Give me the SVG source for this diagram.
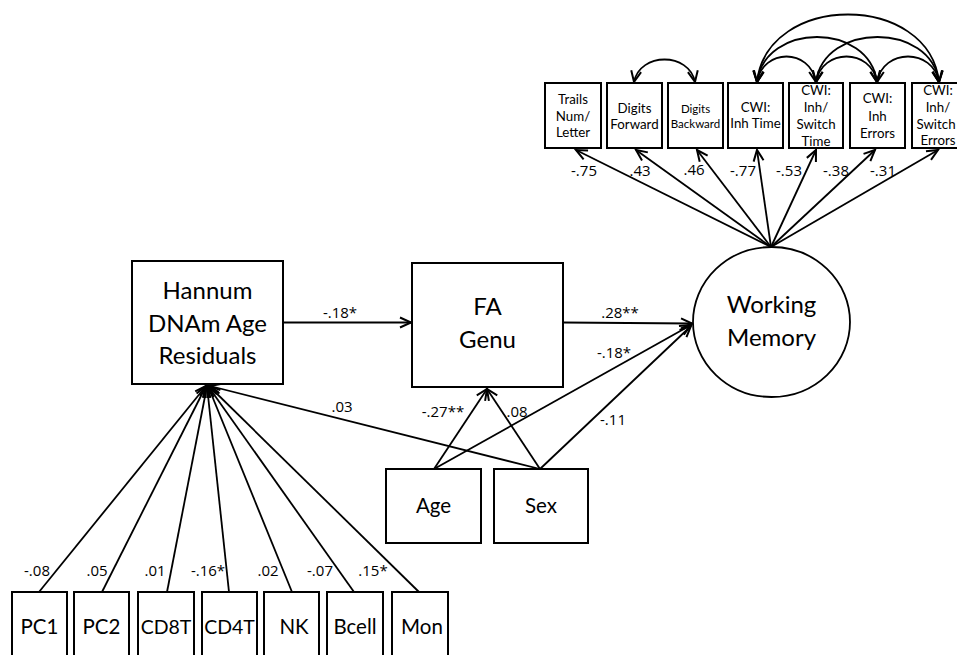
<svg xmlns="http://www.w3.org/2000/svg" width="957" height="655" viewBox="0 0 957 655">
<style>
.box{fill:#fff;stroke:#000;stroke-width:2}
.t{font-family:Lato,"Open Sans","Liberation Sans",sans-serif;fill:#000;text-anchor:middle}
.big{font-size:24px}
.med{font-size:20.5px}
.sm{font-size:13.3px}
.lbl{font-family:"Open Sans",Lato,"Liberation Sans",sans-serif;font-size:15px;fill:#000;text-anchor:middle}
.e{fill:none;stroke:#000;stroke-width:1.8}
.a{marker-end:url(#ah)}
.d{marker-end:url(#ah);marker-start:url(#ah)}
</style>
<defs>
<marker id="ah" markerUnits="userSpaceOnUse" markerWidth="14" markerHeight="12" refX="11" refY="5" orient="auto-start-reverse" overflow="visible">
<path d="M0,0 L11,5 L0,10" fill="none" stroke="#000" stroke-width="2"/>
</marker>
</defs>
<rect width="957" height="655" fill="#fff"/>

<g id="connectors">
<line class="e a" x1="283" y1="322.5" x2="411" y2="322.5"/>
<line class="e a" x1="563" y1="322.5" x2="692" y2="323.5"/>
<line class="e a" x1="434" y1="469" x2="487" y2="389"/>
<line class="e a" x1="540" y1="469" x2="487" y2="389"/>
<line class="e a" x1="434" y1="469" x2="691" y2="325"/>
<line class="e a" x1="540" y1="469" x2="691" y2="326"/>
<line class="e a" x1="540" y1="469" x2="210" y2="386"/>
<line class="e a" x1="39" y1="592" x2="206" y2="386"/>
<line class="e a" x1="102" y1="592" x2="206" y2="386"/>
<line class="e a" x1="167" y1="592" x2="207" y2="386"/>
<line class="e a" x1="229" y1="592" x2="207" y2="386"/>
<line class="e a" x1="292" y1="592" x2="208" y2="386"/>
<line class="e a" x1="354" y1="592" x2="208" y2="386"/>
<line class="e a" x1="419" y1="592" x2="209" y2="386"/>
<line class="e a" x1="771" y1="247" x2="576" y2="150"/>
<line class="e a" x1="771" y1="247" x2="636" y2="150"/>
<line class="e a" x1="771" y1="247" x2="697" y2="150"/>
<line class="e a" x1="771" y1="247" x2="757" y2="150"/>
<line class="e a" x1="771" y1="247" x2="816" y2="150"/>
<line class="e a" x1="771" y1="247" x2="875" y2="150"/>
<line class="e a" x1="771" y1="247" x2="938" y2="150"/>
<path class="e d" d="M634,82 C640,52 689,52 695,82"/>
<path class="e d" d="M757,82 C763,48 810,48 816,82"/>
<path class="e d" d="M816,82 C822,48 871,48 877,82"/>
<path class="e d" d="M877,82 C883,48 933,48 939,82"/>
<path class="e d" d="M757,82 C765,22 869,22 877,82"/>
<path class="e d" d="M816,82 C824,22 931,22 939,82"/>
<path class="e d" d="M757,82 C767,-8 929,-8 939,82"/>
</g>

<g id="edge-labels">
<text class="lbl" x="340" y="318">-.18*</text>
<text class="lbl" x="620" y="318">.28**</text>
<text class="lbl" x="614" y="358">-.18*</text>
<text class="lbl" x="613" y="425">-.11</text>
<text class="lbl" x="443" y="417">-.27**</text>
<text class="lbl" x="517" y="417">.08</text>
<text class="lbl" x="342" y="412">.03</text>
<text class="lbl" x="37" y="576">-.08</text>
<text class="lbl" x="97" y="576">.05</text>
<text class="lbl" x="155" y="576">.01</text>
<text class="lbl" x="208" y="576">-.16*</text>
<text class="lbl" x="268" y="576">.02</text>
<text class="lbl" x="320" y="576">-.07</text>
<text class="lbl" x="373" y="576">.15*</text>
<text class="lbl" x="584" y="176">-.75</text>
<text class="lbl" x="640" y="176">.43</text>
<text class="lbl" x="694" y="175">.46</text>
<text class="lbl" x="743" y="176">-.77</text>
<text class="lbl" x="789" y="176">-.53</text>
<text class="lbl" x="836" y="176">-.38</text>
<text class="lbl" x="883" y="176">-.31</text>
</g>

<g id="hannum">
<rect class="box" x="132" y="261" width="151" height="123"/>
<text class="t big" x="207.5" y="299">Hannum</text>
<text class="t big" x="207.5" y="332">DNAm Age</text>
<text class="t big" x="207.5" y="364">Residuals</text>
</g>
<g id="fa-genu">
<rect class="box" x="412" y="263" width="151" height="124"/>
<text class="t big" x="487.5" y="315">FA</text>
<text class="t big" x="487.5" y="348">Genu</text>
</g>
<g id="working-memory">
<ellipse cx="771.5" cy="322" rx="78.5" ry="75" fill="#fff" stroke="#000" stroke-width="1.8"/>
<text class="t big" x="771.5" y="313">Working</text>
<text class="t big" x="771.5" y="346">Memory</text>
</g>
<g id="age">
<rect class="box" x="386" y="469" width="95" height="74"/>
<text class="t med" x="433.5" y="513">Age</text>
</g>
<g id="sex">
<rect class="box" x="494" y="469" width="94" height="74"/>
<text class="t med" x="541" y="513">Sex</text>
</g>

<g id="pc1"><rect class="box" x="12" y="592" width="55" height="70"/><text class="t med" x="39.5" y="634">PC1</text></g>
<g id="pc2"><rect class="box" x="74" y="592" width="55" height="70"/><text class="t med" x="101.5" y="634">PC2</text></g>
<g id="cd8t"><rect class="box" x="138" y="592" width="56" height="70"/><text class="t" font-size="19.5" x="166" y="634">CD8T</text></g>
<g id="cd4t"><rect class="box" x="202" y="592" width="55" height="70"/><text class="t" font-size="19.5" x="229.5" y="634">CD4T</text></g>
<g id="nk"><rect class="box" x="264" y="592" width="55" height="70"/><text class="t med" x="294" y="634">NK</text></g>
<g id="bcell"><rect class="box" x="327" y="592" width="56" height="70"/><text class="t med" x="355" y="634">Bcell</text></g>
<g id="mon"><rect class="box" x="392" y="592" width="56" height="70"/><text class="t med" x="422" y="634">Mon</text></g>

<g id="trails">
<rect class="box" x="545" y="83" width="56" height="65"/>
<text class="t sm" x="573" y="104">Trails</text>
<text class="t sm" x="573" y="121">Num/</text>
<text class="t sm" x="573" y="137">Letter</text>
</g>
<g id="digits-forward">
<rect class="box" x="607" y="83" width="55" height="65"/>
<text class="t sm" x="634.5" y="113">Digits</text>
<text class="t sm" x="634.5" y="129">Forward</text>
</g>
<g id="digits-backward">
<rect class="box" x="668" y="83" width="55" height="65"/>
<text class="t" font-size="11.5" x="695.5" y="113">Digits</text>
<text class="t" font-size="11.5" x="695.5" y="128">Backward</text>
</g>
<g id="cwi-inh-time">
<rect class="box" x="728" y="83" width="55" height="65"/>
<text class="t sm" x="755.5" y="112">CWI:</text>
<text class="t sm" x="755.5" y="128">Inh Time</text>
</g>
<g id="cwi-inh-switch-time">
<rect class="box" x="789" y="83" width="54" height="65"/>
<text class="t sm" x="816" y="95">CWI:</text>
<text class="t sm" x="816" y="112">Inh/</text>
<text class="t sm" x="816" y="129">Switch</text>
<text class="t sm" x="816" y="146">Time</text>
</g>
<g id="cwi-inh-errors">
<rect class="box" x="850" y="83" width="55" height="65"/>
<text class="t sm" x="877.5" y="103">CWI:</text>
<text class="t sm" x="877.5" y="121">Inh</text>
<text class="t sm" x="877.5" y="138">Errors</text>
</g>
<g id="cwi-inh-switch-errors">
<rect class="box" x="912" y="83" width="56" height="65"/>
<text class="t sm" x="938" y="95">CWI:</text>
<text class="t sm" x="938" y="112">Inh/</text>
<text class="t sm" x="936" y="129">Switch</text>
<text class="t sm" x="938" y="145">Errors</text>
</g>
</svg>
